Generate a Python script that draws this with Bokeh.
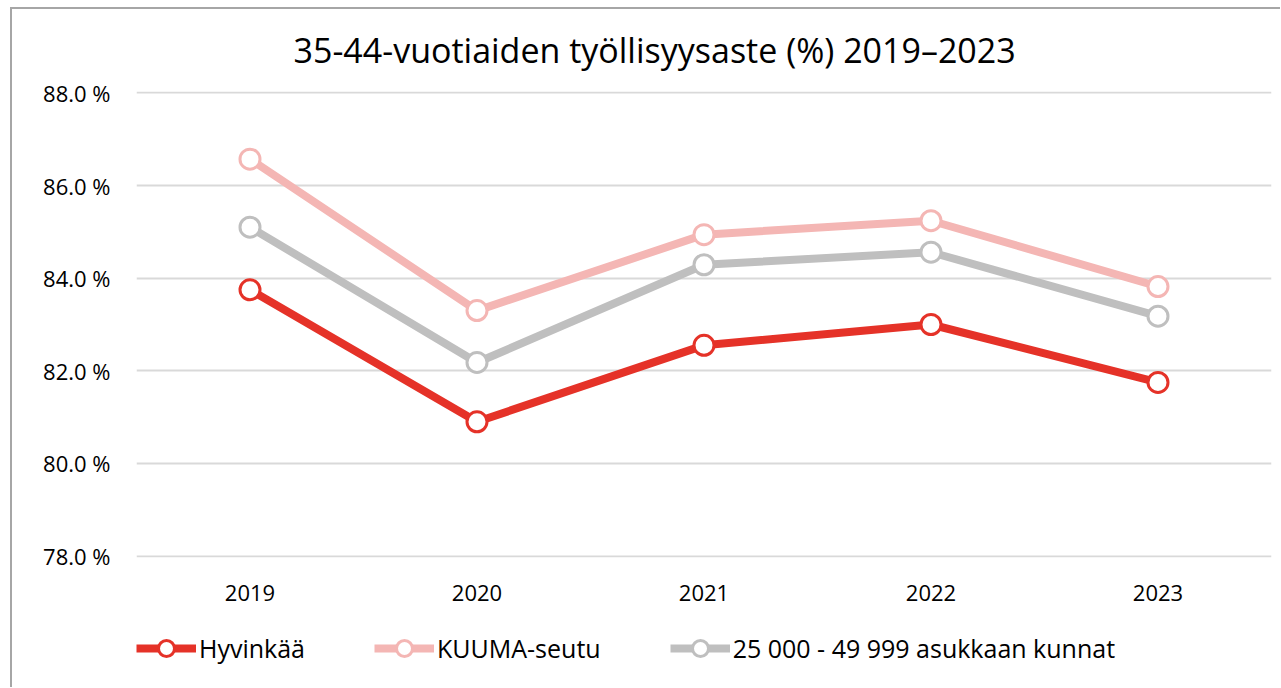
from bokeh.plotting import figure
from bokeh.layouts import column
from bokeh.models import (FactorRange, Range1d, CustomJSTickFormatter, FixedTicker,
                          Legend, LegendItem, Title)
from bokeh.embed import file_html
from bokeh.resources import INLINE

years = ["2019", "2020", "2021", "2022", "2023"]
hyvinkaa = [83.75, 80.90, 82.55, 83.00, 81.75]
kuuma = [86.57, 83.30, 84.94, 85.24, 83.82]
kunnat = [85.10, 82.18, 84.29, 84.56, 83.18]
series_names = ["Hyvinkää", "KUUMA-seutu", "25 000 - 49 999 asukkaan kunnat"]
colors = ["#E53228", "#F4B6B4", "#BFBFBF"]
y_ticks = [78, 80, 82, 84, 86, 88]

FONT = "Open Sans"
W = 1268

p = figure(width=W, height=620, x_range=FactorRange(*years, range_padding=0),
           y_range=Range1d(77.97, 88.03), output_backend="svg", toolbar_location=None,
           min_border_left=124, min_border_right=9, min_border_top=82,
           min_border_bottom=72)
p.outline_line_color = None

t = Title(text="35-44-vuotiaiden työllisyysaste (%) 2019–2023", align="left",
          text_font=FONT, text_font_size="34px", text_font_style="normal",
          text_color="#000000", offset=157, standoff=33, vertical_align="top")
p.add_layout(t, "above")

p.ygrid.grid_line_color = "#D9D9D9"
p.ygrid.grid_line_width = 2
p.xgrid.grid_line_color = None
p.yaxis.ticker = FixedTicker(ticks=y_ticks)
p.yaxis.formatter = CustomJSTickFormatter(code='return tick.toFixed(1) + " %";')
for ax in (p.xaxis[0], p.yaxis[0]):
    ax.axis_line_color = None
    ax.major_tick_line_color = None
    ax.minor_tick_line_color = None
    ax.major_label_text_font = FONT
    ax.major_label_text_font_size = "22px"
    ax.major_label_text_color = "#000000"
p.yaxis.major_label_standoff = 20
p.xaxis.major_label_standoff = 21

# legend strip (separate figure so the legend is not clipped)
lf = figure(width=W, height=58, x_range=FactorRange(*years, range_padding=0),
            y_range=Range1d(0, 1), output_backend="svg", toolbar_location=None,
            min_border=0, x_axis_location=None, y_axis_location=None)
lf.outline_line_color = None
lf.grid.grid_line_color = None

items = []
for name, vals, col in zip(series_names, [hyvinkaa, kuuma, kunnat], colors):
    p.line(years, vals, line_color=col, line_width=8)
    p.scatter(years, vals, size=20, fill_color="white", line_color=col, line_width=3)
    r1 = lf.line(years, vals, line_color=col, line_width=8)
    r2 = lf.scatter(years, vals, size=20, fill_color="white", line_color=col, line_width=3)
    items.append(LegendItem(label=name, renderers=[r1, r2]))

legend = Legend(items=items, orientation="horizontal", location=(0, 19),
                label_text_font=FONT, label_text_font_size="25px",
                label_text_color="#000000", glyph_width=60, glyph_height=40,
                label_standoff=3, spacing=69, padding=0, margin=0,
                border_line_color=None, background_fill_alpha=0)
lf.add_layout(legend, "center")

layout = column(p, lf, spacing=0, margin=(7, 0, 0, 10),
                styles={"border-left": "2px solid #A6A6A6",
                        "border-top": "2px solid #A6A6A6"})

open("out.html", "w").write(file_html(layout, INLINE))
